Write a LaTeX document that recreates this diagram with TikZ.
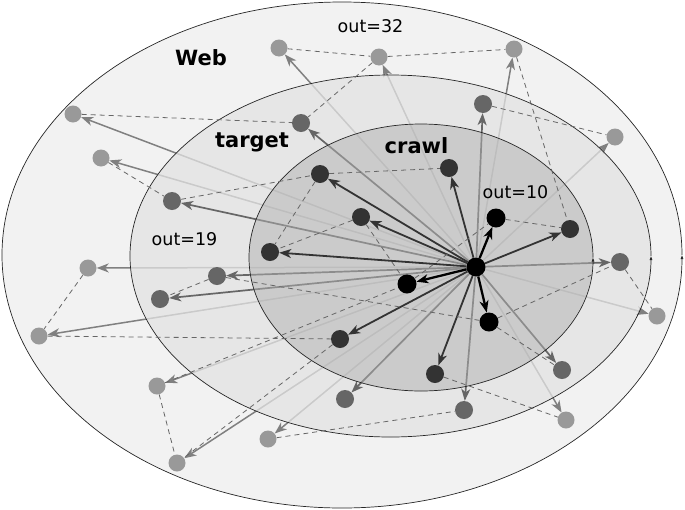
\documentclass[tikz,border=0pt]{standalone}
\usepackage{fontspec}
\setmainfont{DejaVu Sans}
\usetikzlibrary{arrows.meta}

\pgfdeclarelayer{front}
\pgfsetlayers{main,front}

\tikzset{%
  >={Stealth[length=12pt,width=9pt,inset=3.5pt]},
  seedpt/.style={circle,inner sep=0pt,minimum size=19pt,fill=black},
  crawlpt/.style={circle,inner sep=0pt,minimum size=18pt,fill=black!80},
  targetpt/.style={circle,inner sep=0pt,minimum size=18pt,fill=black!60},
  webpt/.style={circle,inner sep=0pt,minimum size=17pt,fill=black!40},
  ring/.style={draw=black!85,line width=0.7pt,-{Latex[length=4pt,width=3pt]}},
  toweb/.style={->,draw=black!50,line width=1.5pt},
  totarget/.style={->,draw=black!60,line width=1.7pt},
  tocrawl/.style={->,draw=black!80,line width=1.8pt},
  toseed/.style={->,draw=black,line width=2.3pt},
  link/.style={draw=black!60,line width=0.8pt,dash pattern=on 5pt off 4pt},
  setname/.style={anchor=base,font=\bfseries\fontsize{21}{24}\selectfont},
  outdeg/.style={anchor=base,font=\fontsize{17.5}{20}\selectfont}
}

\begin{document}
\begin{tikzpicture}[x=1pt,y=-1pt]
  \useasboundingbox (0,0) rectangle (685,509);

  % pages, kept on top of all lines
  \begin{pgfonlayer}{front}
    \node[seedpt] (H) at (476,267) {};
    \foreach \n/\x/\y in {B1/496/218, B2/407/284, B3/489/322}
      \node[seedpt] (\n) at (\x,\y) {};
    \foreach \n/\x/\y in {C1/320/174, C2/361/217, C3/270/252, C4/449/168,
                          C5/570/229, C6/340/339, C7/435/374}
      \node[crawlpt] (\n) at (\x,\y) {};
    \foreach \n/\x/\y in {T1/301/123, T2/172/201, T3/483/104, T4/217/276,
                          T5/160/299, T6/620/262, T7/562/370, T8/464/410,
                          T9/345/399}
      \node[targetpt] (\n) at (\x,\y) {};
    \foreach \n/\x/\y in {W1/279/48, W2/379/57, W3/514/49, W4/73/114,
                          W5/101/158, W6/615/137, W7/88/268, W8/39/336,
                          W9/657/316, W10/157/386, W11/268/439, W12/177/463,
                          W13/566/420}
      \node[webpt] (\n) at (\x,\y) {};
  \end{pgfonlayer}

  % Web
  \fill[black!5] (342,255) ellipse [x radius=340pt, y radius=253pt];
  \draw[ring] (682,255) arc[start angle=0, end angle=360, x radius=340pt, y radius=253pt];
  \foreach \i in {1,...,13}
    \draw[toweb] (H) -- (W\i);

  % target
  \fill[black!11,fill opacity=0.75] (390.5,256) ellipse [x radius=260.5pt, y radius=181pt];
  \draw[ring] (651,256) arc[start angle=0, end angle=360, x radius=260.5pt, y radius=181pt];
  \foreach \i in {1,...,9}
    \draw[totarget] (H) -- (T\i);

  % crawl
  \fill[black!30,fill opacity=0.5] (421,257.5) ellipse [x radius=172pt, y radius=133.5pt];
  \draw[ring] (593,257.5) arc[start angle=0, end angle=360, x radius=172pt, y radius=133.5pt];
  \foreach \i in {1,...,7}
    \draw[tocrawl] (H) -- (C\i);
  \foreach \i in {1,2,3}
    \draw[toseed] (H) -- (B\i);

  % other links
  \foreach \a/\b in {W1/W2, W2/W3, W2/T1, W4/T1, W5/T2, T2/C1, C1/C4, C1/C3,
                     C2/C3, C2/B2, B2/B1, B1/C5, W3/C5, T3/W6, T4/T5, T4/B3,
                     W7/W8, W8/C6, C6/W12, W10/W12, W10/B2, W11/T8, C7/W13,
                     B3/T7, B3/T6, T6/W9}
    \draw[link] (\a) -- (\b);

  \node[setname] (webname) at (201,65) {Web};
  \node[setname] (targetname) at (252,147) {target};
  \node[setname] (crawlname) at (416.5,153) {crawl};
  \node[outdeg] (webout) at (370.5,32) {out=32};
  \node[outdeg] (targetout) at (184.5,245) {out=19};
  \node[outdeg] (crawlout) at (515.5,198) {out=10};
\end{tikzpicture}
\end{document}
